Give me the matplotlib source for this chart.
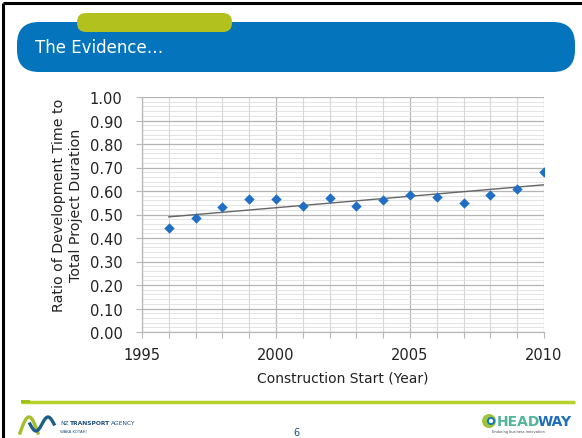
import matplotlib
matplotlib.use("Agg")
import matplotlib.pyplot as plt
import numpy as np
from matplotlib.patches import FancyBboxPatch, Rectangle, Circle
from matplotlib.ticker import MultipleLocator, FormatStrFormatter

# data
years = [1996, 1997, 1998, 1999, 2000, 2001, 2002, 2003,
         2004, 2005, 2006, 2007, 2008, 2009, 2010]
ratio = [0.441, 0.487, 0.530, 0.564, 0.566, 0.537, 0.570, 0.535,
         0.562, 0.583, 0.574, 0.550, 0.583, 0.608, 0.682]
x_ticks = [1995, 2000, 2005, 2010]
title = "The Evidence…"
x_label = "Construction Start (Year)"
y_label = "Ratio of Development Time to\nTotal Project Duration"

BLUE = "#0474bd"
GREEN = "#b3c11f"
W, H = 582, 439

plt.rcParams["font.family"] = ["DejaVu Sans"]
fig = plt.figure(figsize=(W / 100, H / 100), dpi=100)

# slide decoration layer in pixel coords
deco = fig.add_axes([0, 0, 1, 1], zorder=0)
deco.set_xlim(0, W)
deco.set_ylim(H, 0)
deco.axis("off")

# black screenshot border top / left
deco.plot([3, W], [4, 4], color="black", lw=2.2, solid_capstyle="butt")
deco.plot([3, 3], [4, H], color="black", lw=2.2, solid_capstyle="butt")

# header bar + green tab
deco.add_patch(FancyBboxPatch((17, 23), 558, 50,
                              boxstyle="round,pad=0,rounding_size=22",
                              fc=BLUE, ec="none"))
deco.add_patch(FancyBboxPatch((77, 14), 155, 19,
                              boxstyle="round,pad=0,rounding_size=9",
                              fc=GREEN, ec="none", zorder=3))
deco.text(35, 48, title, color="white", fontsize=12, va="center", ha="left",
          zorder=4)

# footer line
deco.plot([21, 575], [403, 403], color="#b6d12a", lw=2.5, solid_capstyle="butt")
deco.add_patch(Rectangle((21, 401.5), 9, 3, fc="#9fc21b", ec="none", zorder=3))

# NZTA logo (rough)
t = np.linspace(0, 1, 50)
deco.plot(20 + 18 * t, 434 - 16 * np.sin(np.pi * t), color="#a5bf2c", lw=2.4)
deco.plot(30 + 24 * t, 425 + 7 * np.sin(2 * np.pi * t), color="#1b5e86", lw=2.4)
deco.text(60, 424, "NZ", fontsize=4.3, color="#1b4f7a", va="center")
deco.text(70, 424, "TRANSPORT", fontsize=4.3, color="#1b4f7a", va="center",
          weight="bold")
deco.text(111, 424, "AGENCY", fontsize=4.3, color="#1b4f7a", va="center")
deco.text(60, 432, "WAKA KOTAHI", fontsize=2.8, color="#1b4f7a", va="center")

# page number
deco.text(296, 433, "6", fontsize=7, color="#1b4f7a", ha="center", va="center")

# Headway logo (rough)
deco.add_patch(Circle((489, 422), 7, fc="#9ec43c", ec="none"))
deco.add_patch(Circle((491, 422), 4, fc=BLUE, ec="none"))
deco.add_patch(Circle((491, 422), 2.2, fc="white", ec="none"))
deco.text(497, 422, "HEAD", fontsize=10, weight="bold", color="#55b59a",
          va="center", ha="left")
deco.text(538, 422, "WAY", fontsize=10, weight="bold", color="#1f6fb8",
          va="center", ha="left")
deco.text(518, 432.5, "Enduring business innovation", fontsize=2.5,
          color="#444444", ha="center", va="center")

# chart
ax = fig.add_axes([142 / W, 1 - 333 / H, 402 / W, 235 / H], zorder=2)
ax.patch.set_alpha(0)
ax.scatter(years, ratio, marker="D", s=28, color="#1f6fc4", zorder=4,
           linewidths=0)
k, b = np.polyfit(years, ratio, 1)
yr = np.array([years[0], years[-1]])
ax.plot(yr, k * yr + b, color="#666666", lw=1.0, zorder=3)

ax.set_xlim(1995, 2010)
ax.set_ylim(0, 1.0)
ax.set_xticks(x_ticks)
ax.xaxis.set_minor_locator(MultipleLocator(1))
ax.yaxis.set_major_locator(MultipleLocator(0.1))
ax.yaxis.set_minor_locator(MultipleLocator(0.02))
ax.yaxis.set_major_formatter(FormatStrFormatter("%.2f"))

ax.grid(which="major", axis="y", color="#b4b4b4", lw=0.9)
ax.grid(which="minor", axis="y", color="#dedede", lw=0.6)
ax.grid(which="major", axis="x", color="#b8b8b8", lw=0.9)
ax.grid(which="minor", axis="x", color="#d6d6d6", lw=0.8)
ax.set_axisbelow(True)

for s in ["top", "right"]:
    ax.spines[s].set_visible(False)
for s in ["left", "bottom"]:
    ax.spines[s].set_color("#b8b8b8")
    ax.spines[s].set_linewidth(0.9)

ax.tick_params(which="both", colors="#b8b8b8", labelcolor="#222222",
               labelsize=10.5, length=4, width=0.8)
ax.tick_params(axis="y", which="minor", length=0)
ax.tick_params(axis="y", pad=10)
ax.tick_params(axis="x", pad=7)

ax.set_xlabel(x_label, fontsize=10, color="#222222", labelpad=6)
ax.set_ylabel(y_label, fontsize=10.3, color="#222222", linespacing=1.3)
ax.yaxis.set_label_coords(-0.147, 0.545)

fig.savefig("out.png", dpi=100)
